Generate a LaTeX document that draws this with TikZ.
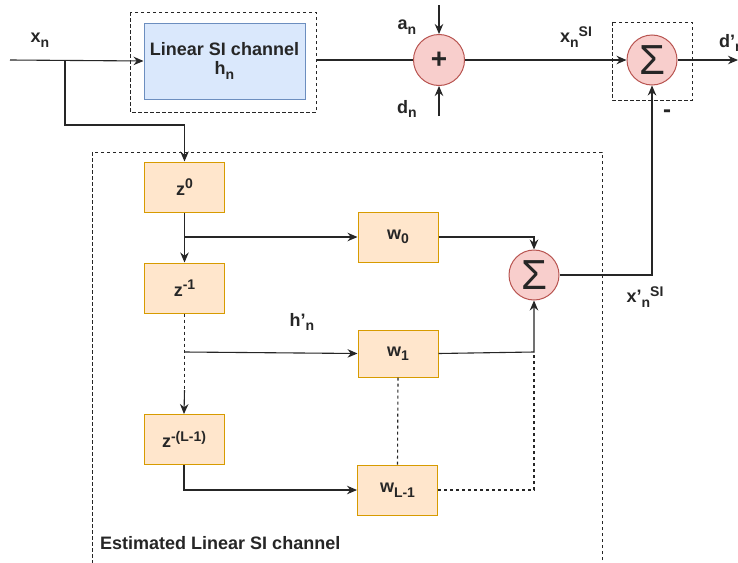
\documentclass[tikz,border=0pt]{standalone}
\usepackage{fontspec}
\setmainfont{Liberation Sans}
\usetikzlibrary{arrows.meta,calc}
\definecolor{bluefill}{HTML}{DAE8FC}
\definecolor{bluedraw}{HTML}{6C8EBF}
\definecolor{orfill}{HTML}{FFE6CC}
\definecolor{ordraw}{HTML}{D79B00}
\definecolor{redfill}{HTML}{F8CECC}
\definecolor{reddraw}{HTML}{B85450}
\definecolor{ink}{HTML}{262626}
\newcommand\lo[1]{\raisebox{-4.5pt}{\fontsize{14}{14}\selectfont #1}}
\newcommand\hi[1]{\raisebox{6.5pt}{\fontsize{14}{14}\selectfont #1}}
\newcommand\pr{\char"0027\relax}
\begin{document}
\begin{tikzpicture}[x=1pt,y=-1pt,
  every node/.style={font=\fontsize{18}{20}\selectfont\bfseries, text=ink},
  wire/.style={draw=ink, line width=1.1pt},
  arr/.style={wire, -{Stealth[length=10pt,width=8.5pt]}},
  dwire/.style={wire, dash pattern=on 3pt off 3pt},
  frame/.style={draw=ink, line width=1pt, dash pattern=on 3.5pt off 2.5pt},
  tap/.style={draw=ordraw, fill=orfill, line width=1pt, minimum width=80pt, minimum height=50pt, inner sep=0pt},
  adder/.style={circle, draw=reddraw, fill=redfill, line width=1pt, minimum size=51pt, inner sep=0pt},
  sigma/.style={adder, minimum size=50pt, font=\fontsize{42}{42}\selectfont},
  lbl/.style={inner sep=0pt}]
\useasboundingbox (0,0) rectangle (738,562);
\fill[white] (0,0) rectangle (738,562);

% dashed enclosures
\draw[frame] (130,12) rectangle (316,112);
\draw[frame] (612,22) rectangle (692,100);
\draw[frame] (92,152) rectangle (602,575);

% upper path: channel, adder, canceller
\node[draw=bluedraw, fill=bluefill, line width=1pt, minimum width=161pt, minimum height=76pt, inner sep=0pt, align=center] (chan) at (224.5,61) {Linear SI channel\\[-1pt]h\lo{n}};
\node[adder, font=\fontsize{28}{28}\selectfont\bfseries] (plus) at (439,60) {+};
\node[sigma] (sig1) at (652,60) {\raisebox{-1pt}{Σ}};

\coordinate (in) at (10,60);
\coordinate (split) at (65,60);
\coordinate (out) at (738,60);
\coordinate (atop) at (439,5);
\coordinate (dbot) at (439,116);

\draw[arr] (in) -- (chan.west);
\draw[wire] (316,60) -- (plus.west);
\draw[arr] (atop) -- (plus.north);
\draw[arr] (dbot) -- (plus.south);
\draw[arr] (plus.east) -- (sig1.west);
\draw[arr] (sig1.east) -- (out);

\node[lbl] at (40,40) {x\lo{n}};
\node[lbl] at (407,27) {a\lo{n}};
\node[lbl] at (407,109) {d\lo{n}};
\node[lbl] at (576,37) {x\lo{n}\hi{SI}};
\node[lbl, anchor=west] at (719,43) {d\pr\lo{n}};
\node[lbl, font=\fontsize{24}{24}\selectfont\bfseries] at (667,114) {-};

% tapped delay line
\node[tap] (z0) at (184.5,187) {z\hi{0}};
\node[tap] (z1) at (184.5,288) {z\hi{-1}};
\node[tap] (zL) at (184,439.5) {z\hi{-(L-1)}};
\node[tap] (w0) at (398,237) {w\lo{0}};
\node[tap, minimum height=47pt] (w1) at (398,353.5) {w\lo{1}};
\node[tap] (wL) at (397.5,490) {w\lo{L-1}};
\node[sigma] (sig2) at (534,275) {\raisebox{-1pt}{Σ}};

\coordinate (k0) at (184.5,237);
\coordinate (k1) at (184.5,352);
\coordinate (k2) at (184.5,390);
\coordinate (kL) at (184,490);
\coordinate (m0) at (534,237);
\coordinate (m1) at (534,352);
\coordinate (mL) at (534,490);
\coordinate (r) at (652,275);

\draw[arr] (split) |- (184.5,125) -- (z0.north);
\draw[arr] (z0.south) -- (z1.north);
\draw[arr] (k0) -- (w0.west);
\draw[dwire] (z1.south) -- (k2);
\draw[arr] (k2) -- (zL.north);
\draw[arr] (k1) -- (w1.west);
\draw[arr] (zL.south) |- (wL.west);
\draw[arr] (w0.east) -- (m0) -- (sig2.north);
\draw[arr] (w1.east) -- (m1) -- (sig2.south);
\draw[dwire] (wL.east) -- (mL) -- (m1);
\draw[dwire] (w1.south) -- (wL.north);
\draw[arr] (sig2.east) -- (r) -- (sig1.south);

\node[lbl] at (302,322) {h\pr\lo{n}};
\node[lbl] at (645,297) {x\pr\lo{n}\hi{SI}};
\node[lbl, anchor=west] at (100,543) {Estimated Linear SI channel};
\end{tikzpicture}
\end{document}
